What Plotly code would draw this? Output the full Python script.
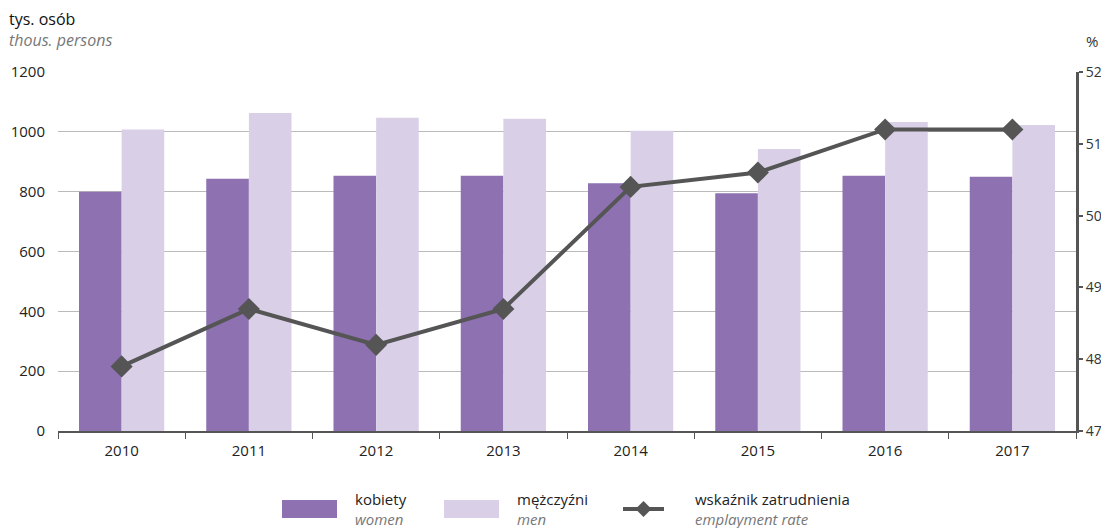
import plotly.graph_objects as go

years = ["2010", "2011", "2012", "2013", "2014", "2015", "2016", "2017"]
women = [800, 843, 853, 853, 828, 795, 853, 850]
men = [1008, 1063, 1047, 1044, 1004, 943, 1033, 1023]
rate = [47.9, 48.7, 48.2, 48.7, 50.4, 50.6, 51.2, 51.2]

C_WOMEN = "#8E71B0"
C_MEN = "#D9D0E8"
C_LINE = "#555555"
FONT = "Open Sans"

# page body has an 8px margin; figure is placed at (8, 8)
OFF = 8
W, H = 1109 - OFF, 528 - OFF
# plot area in reference (screen) pixels
L, R, T, B = 58, 1076, 72, 431


def px(x):
    return (x - L) / (R - L)


def py(y):
    return (B - y) / (B - T)


fig = go.Figure()
fig.add_trace(go.Bar(x=years, y=women, name="kobiety", marker=dict(color=C_WOMEN, line=dict(width=0)),
                     showlegend=False))
fig.add_trace(go.Bar(x=years, y=men, name="mężczyźni", marker=dict(color=C_MEN, line=dict(width=0)),
                     showlegend=False))
fig.add_trace(go.Scatter(x=years, y=rate, yaxis="y2", mode="lines+markers", name="wskaźnik zatrudnienia",
                         line=dict(color=C_LINE, width=4),
                         marker=dict(symbol="diamond", size=17, color=C_LINE),
                         showlegend=False))

shapes = []
annotations = []


def rect(x0, x1, color):
    shapes.append(dict(type="rect", xref="paper", yref="paper", x0=px(x0), x1=px(x1),
                       y0=py(518), y1=py(500), fillcolor=color, line=dict(width=0)))


def label(x, top, bottom):
    annotations.append(dict(xref="paper", yref="paper", x=px(x), y=py(509), xanchor="left", yanchor="middle",
                            align="left",
                            text=top + "<br><i><span style='color:#777'>" + bottom + "</span></i>",
                            showarrow=False, font=dict(family=FONT, size=15, color="#222")))


rect(282, 337, C_WOMEN)
label(353, "kobiety", "women")
rect(444, 499, C_MEN)
label(515, "mężczyźni", "men")
shapes.append(dict(type="line", xref="paper", yref="paper", x0=px(623), x1=px(664), y0=py(509), y1=py(509),
                   line=dict(color=C_LINE, width=4)))
cx, cy, d = 643.5, 509, 8
shapes.append(dict(type="path", xref="paper", yref="paper",
                   path=f"M {px(cx-d)} {py(cy)} L {px(cx)} {py(cy-d)} L {px(cx+d)} {py(cy)} L {px(cx)} {py(cy+d)} Z",
                   fillcolor=C_LINE, line=dict(width=0)))
label(693, "wskaźnik zatrudnienia", "emplayment rate")

annotations.append(dict(xref="paper", yref="paper", x=px(7), y=py(29), xanchor="left", yanchor="middle",
                        align="left",
                        text="tys. osób<br><i><span style='color:#777'>thous. persons</span></i>",
                        showarrow=False, font=dict(family=FONT, size=16, color="#111")))
annotations.append(dict(xref="paper", yref="paper", x=px(1084), y=py(41), xanchor="left", yanchor="middle",
                        text="%", showarrow=False, font=dict(family=FONT, size=15, color="#333")))

fig.update_layout(
    width=W, height=H,
    margin=dict(l=L - OFF, r=(OFF + W) - R, t=T - OFF, b=(OFF + H) - B, pad=0, autoexpand=False),
    paper_bgcolor="white", plot_bgcolor="white",
    font=dict(family=FONT, size=15, color="#222"),
    barmode="group", bargap=0.33, bargroupgap=0,
    xaxis=dict(type="category", range=[-0.5, 7.5], showline=True, linecolor=C_LINE, linewidth=1.5,
               ticks="outside", tickson="boundaries", ticklen=6, tickcolor=C_LINE, tickwidth=1,
               ticklabelstandoff=5,
               showgrid=False, automargin=False, tickfont=dict(size=15, color="#222")),
    yaxis=dict(range=[0, 1200], dtick=200, showgrid=True, gridcolor="#BBBBBB", gridwidth=1,
               zeroline=False, showline=False, ticks="", ticklabelstandoff=12, automargin=False,
               tickfont=dict(size=15, color="#222")),
    yaxis2=dict(range=[47, 52], dtick=1, overlaying="y", side="right", showgrid=False, zeroline=False,
                showline=True, linecolor=C_LINE, linewidth=3, ticks="outside", ticklen=4, tickwidth=2,
                tickcolor=C_LINE, ticklabelstandoff=0, automargin=False, tickfont=dict(size=14, color="#333")),
    shapes=shapes, annotations=annotations,
)

fig.write_html("out.html")
